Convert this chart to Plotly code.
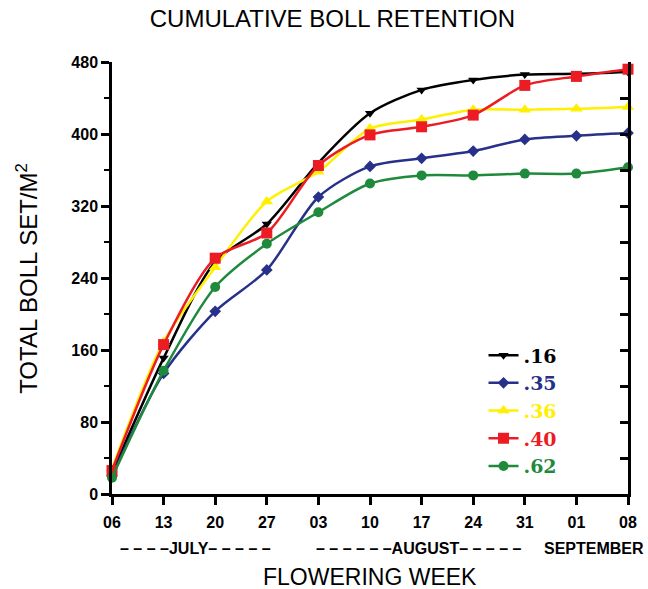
import plotly.graph_objects as go

weeks = ["06", "13", "20", "27", "03", "10", "17", "24", "31", "01", "08"]
months = ["– – – –JULY– – – – –", "– – – – – –AUGUST– – – – –", "SEPTEMBER"]
names = [".16", ".35", ".36", ".40", ".62"]
s16 = [23, 151, 258, 300, 368, 423, 449, 460, 466, 467, 469]
s35 = [20, 134, 203, 249, 330, 364, 373, 381, 394, 398, 401]
s36 = [28, 169, 252, 325, 358, 406, 416, 427, 427, 428, 430]
s40 = [26, 166, 262, 290, 365, 399, 408, 421, 454, 464, 472]
s62 = [18, 137, 230, 278, 313, 345, 354, 354, 356, 356, 363]

series = [s16, s35, s36, s40, s62]
colors = ["#000000", "#27318a", "#fff000", "#ec1c24", "#1f8a3b"]
symbols = ["triangle-down", "diamond", "triangle-up", "square", "circle"]
msizes = [9, 9, 11, 11, 10]

x = list(range(len(weeks)))
fig = go.Figure()
for name, ys, c, sym, ms in zip(names, series, colors, symbols, msizes):
    fig.add_trace(go.Scatter(
        x=x, y=ys, mode="lines+markers",
        name=f"<b><span style='color:{c}'>{name}</span></b>",
        line=dict(color=c, width=2.5, shape="spline", smoothing=0.8),
        marker=dict(symbol=sym, size=ms, color=c),
        cliponaxis=False,
    ))
# invisible trace to carry the right-hand axis
fig.add_trace(go.Scatter(x=[0], y=[0], yaxis="y2", mode="markers",
                         marker=dict(opacity=0), showlegend=False, hoverinfo="skip"))

sans = "Liberation Sans, Arial"
tickfont = dict(family=sans, size=16, color="black")
yt = [0, 80, 160, 240, 320, 400, 480]
fig.update_layout(
    width=648, height=589,
    margin=dict(l=112, r=20, t=62, b=95),
    paper_bgcolor="white", plot_bgcolor="white",
    title=dict(text="CUMULATIVE BOLL RETENTION", x=0.513, xanchor="center", y=0.968, yanchor="middle",
               font=dict(family=sans, size=24, color="black")),
    xaxis=dict(range=[0, 10], tickmode="array", tickvals=x, ticktext=[f"<b>{w}</b>" for w in weeks],
               showgrid=False, zeroline=False, showline=True, linecolor="black", linewidth=2.5,
               ticks="outside", ticklen=8, tickwidth=2.5, tickcolor="black", tickfont=tickfont,
               ticklabelstandoff=4, automargin=False),
    yaxis=dict(range=[0, 480], tickvals=yt, ticktext=[f"<b>{v}</b>" for v in yt],
               showgrid=False, zeroline=False, showline=True, linecolor="black", linewidth=2.5,
               ticks="outside", ticklen=8, tickwidth=2.5, tickcolor="black", tickfont=tickfont,
               minor=dict(tickvals=[40, 120, 200, 280, 360, 440], ticks="outside", ticklen=5, tickwidth=2, tickcolor="black"),
               automargin=False),
    yaxis2=dict(range=[0, 480], overlaying="y", side="right",
                tickvals=[0, 40, 80, 120, 160, 200, 240, 280, 320, 360, 400, 440, 480],
                showticklabels=False, showgrid=False, zeroline=False, showline=True, linecolor="black", linewidth=2.5,
                ticks="inside", ticklen=8, tickwidth=2.5, tickcolor="black", automargin=False),
    legend=dict(x=0.72, y=0.365, xanchor="left", yanchor="top", bgcolor="rgba(0,0,0,0)",
                font=dict(family="DejaVu Serif, Liberation Serif", size=19), tracegroupgap=0,
                itemwidth=30),
    showlegend=True,
)

month_x = [1.62, 5.95, 9.35]
for m, mx in zip(months, month_x):
    fig.add_annotation(x=mx, y=-0.127, xref="x", yref="paper", text=f"<b>{m}</b>", showarrow=False,
                       font=dict(family=sans, size=16, color="black"), yanchor="middle")

fig.add_annotation(x=0.5, y=-0.191, xref="paper", yref="paper", text="FLOWERING WEEK", showarrow=False,
                   font=dict(family=sans, size=23, color="black"), yanchor="middle")
fig.add_annotation(x=-0.165, y=0.5, xref="paper", yref="paper", text="TOTAL BOLL SET/M<sup>2</sup>",
                   showarrow=False, textangle=-90,
                   font=dict(family=sans, size=24, color="black"), xanchor="center", yanchor="middle")

fig.write_html("out.html")
